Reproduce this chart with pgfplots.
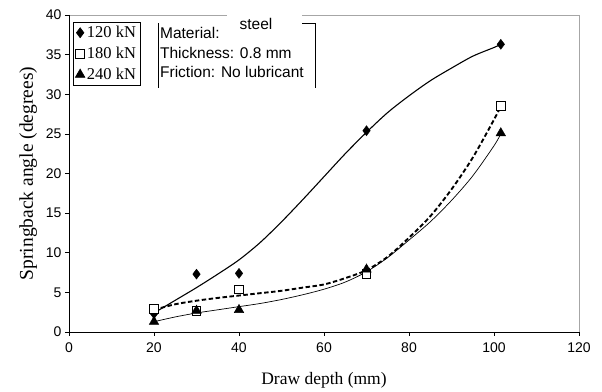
\documentclass[border=0pt]{standalone}
\usepackage{fontspec}
\setmainfont{Liberation Serif}
\newfontfamily\arial{Liberation Sans}
\usepackage{pgfplots}
\pgfplotsset{compat=1.18}
\usepackage{pgfplotstable}

% measured points
\pgfplotstableread{
x y
20 2.3
30 7.3
40 7.4
70 25.4
101.6 36.3
}\dataA
\pgfplotstableread{
x y
20 2.9
30 2.7
40 5.4
70 7.3
101.6 28.5
}\dataB
\pgfplotstableread{
x y
20 1.3
30 2.7
40 2.8
70 7.9
101.6 25.1
}\dataC
% trend curves
\pgfplotstableread{
x y
20 2.4
25 4.0
30 5.6
35 7.3
40 9.1
45 11.3
50 13.9
55 16.7
60 19.6
65 22.5
70 25.2
75 27.7
80 29.8
85 31.7
90 33.3
95 34.8
100 35.9
101.6 36.3
}\curveA
\pgfplotstableread{
x y
20 2.8
25 3.5
30 3.95
35 4.3
40 4.6
45 4.9
50 5.2
55 5.6
60 6.0
65 6.8
70 7.8
75 9.5
80 11.9
85 14.6
90 18.0
95 22.0
100 26.8
101.6 28.5
}\curveB
\pgfplotstableread{
x y
20 1.3
25 1.9
30 2.4
35 2.8
40 3.2
45 3.6
50 4.1
55 4.7
60 5.4
65 6.3
70 7.6
75 9.4
80 11.6
85 13.9
90 16.6
95 19.7
100 23.5
101.6 25.0
}\curveC

\begin{document}
\begin{tikzpicture}
\begin{axis}[
  scale only axis, width=510bp, height=317bp,
  xmin=0, xmax=120, ymin=0, ymax=40,
  xtick={0,20,...,120}, ytick={0,5,...,40},
  tick pos=left, tick align=outside,
  major tick length=4bp,
  tick style={black, line width=0.6pt},
  axis line style={draw=none},
  clip=false,
  /pgf/number format/assume math mode=true,
  ticklabel style={font=\arial\fontsize{14bp}{16bp}\selectfont},
  xticklabel style={yshift=-3bp},
  xlabel={Draw depth (mm)},
  ylabel={Springback angle (degrees)},
  xlabel style={font=\fontsize{17.5bp}{20bp}\selectfont, at={(axis description cs:0.5,-0.151)}, anchor=center},
  ylabel style={font=\fontsize{19.5bp}{22bp}\selectfont, at={(axis description cs:-0.08,0.5)}, anchor=center},
  legend style={at={(axis description cs:0.008,0.978)}, anchor=north west,
    draw=black, line width=0.6pt, font=\fontsize{16.5bp}{18bp}\selectfont,
    row sep=4bp, inner xsep=2bp, inner ysep=2bp, cells={anchor=west}},
  legend image code/.code={\draw[#1] plot coordinates {(0.15cm,0cm)};},
]
% frame
\draw[gray!70, line width=0.6pt] (rel axis cs:0,1) -- (rel axis cs:1,1) -- (rel axis cs:1,0);
\draw[black, line width=0.8pt] (rel axis cs:0,1) -- (rel axis cs:0,0) -- (rel axis cs:1,0);

% trend curves
\addplot[black, line width=1.1pt, smooth, forget plot] table {\curveA};
\addplot[black, line width=1.9pt, smooth, dash pattern=on 4.5pt off 2.5pt, forget plot] table {\curveB};
\addplot[black, line width=0.7pt, smooth, forget plot] table {\curveC};

% data marks
\addplot[only marks, mark=diamond*, mark size=5bp, mark options={fill=black, draw=black}] table {\dataA};
\addplot[only marks, mark=square*, mark size=4.3bp, mark options={fill=white, draw=black, line width=0.7pt}] table {\dataB};
\addplot[only marks, mark=triangle*, mark size=5.5bp, mark options={fill=black, draw=black}] table {\dataC};
\legend{120 kN, 180 kN, 240 kN}

% text box
\draw[black, line width=0.6pt] (axis cs:20.9,30.8) -- (axis cs:20.9,39.0);
\draw[black, line width=0.6pt] (axis cs:54.8,39.0) -- (axis cs:57.9,39.0) -- (axis cs:57.9,30.8);
\fill[white] (axis cs:37.2,38.1) rectangle (axis cs:54.8,40.9);
\node[anchor=west, inner sep=0pt, font=\arial\fontsize{15.5bp}{18bp}\selectfont] at (axis cs:21.4,37.7) {Material:};
\node[anchor=west, inner sep=0pt, font=\arial\fontsize{15.5bp}{18bp}\selectfont] at (axis cs:21.4,35.2) {Thickness: 0.8 mm};
\node[anchor=west, inner sep=0pt, font=\arial\fontsize{15.5bp}{18bp}\selectfont] at (axis cs:21.4,32.8) {Friction: No lubricant};
\node[inner sep=0pt, font=\arial\fontsize{15.5bp}{18bp}\selectfont] at (axis cs:44.0,38.9) {steel};

\coordinate (O) at (rel axis cs:0,0);
\end{axis}
\path (O) ++(-69bp,-59bp) rectangle ++(602bp,391bp);
\end{tikzpicture}
\end{document}
